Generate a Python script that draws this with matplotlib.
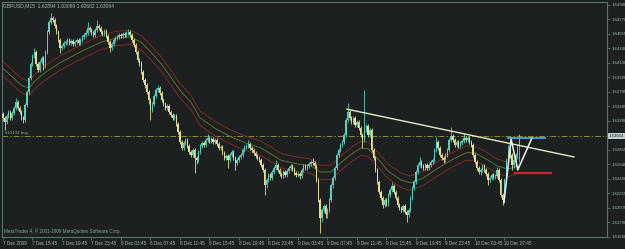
import matplotlib
matplotlib.use("Agg")
import matplotlib.pyplot as plt
import numpy as np

# ---------------- data ----------------
header_text = "GBPUSD,M15  1.62894 1.63089 1.62682 1.63064"
copyright_text = "MetaTrader 4, \u00a9 2001-2009 MetaQuotes Software Corp."
order_text = "#13131 buy"

first_open = 1.6338
closes = [
    1.6332, 1.6326, 1.6335, 1.6341, 1.6332, 1.6339, 1.6347, 1.6355, 1.6347, 1.6341,
    1.6332, 1.6329, 1.6351, 1.6370, 1.6391, 1.6411, 1.6423, 1.6429, 1.6411, 1.6402,
    1.6414, 1.6420, 1.6408, 1.6429, 1.6458, 1.6473, 1.6479, 1.6476, 1.6467, 1.6458,
    1.6446, 1.6435, 1.6438, 1.6442, 1.6443, 1.6446, 1.6442, 1.6445, 1.6440, 1.6443,
    1.6446, 1.6442, 1.6446, 1.6451, 1.6454, 1.6457, 1.6464, 1.6461, 1.6457, 1.6454,
    1.6461, 1.6467, 1.6464, 1.6458, 1.6455, 1.6460, 1.6452, 1.6443, 1.6435, 1.6440,
    1.6446, 1.6449, 1.6451, 1.6454, 1.6452, 1.6455, 1.6454, 1.6457, 1.6458, 1.6454,
    1.6446, 1.6439, 1.6429, 1.6417, 1.6413, 1.6399, 1.6388, 1.6380, 1.6370, 1.6358,
    1.6344, 1.6353, 1.6364, 1.6373, 1.6376, 1.6369, 1.6358, 1.6353, 1.6347, 1.6350,
    1.6341, 1.6336, 1.6332, 1.6335, 1.6323, 1.6311, 1.6297, 1.6288, 1.6295, 1.6300,
    1.6291, 1.6282, 1.6278, 1.6285, 1.6273, 1.6270, 1.6282, 1.6291, 1.6295, 1.6292,
    1.6300, 1.6303, 1.6298, 1.6301, 1.6297, 1.6300, 1.6294, 1.6288, 1.6290, 1.6281,
    1.6273, 1.6276, 1.6270, 1.6278, 1.6282, 1.6273, 1.6266, 1.6270, 1.6275, 1.6278,
    1.6285, 1.6290, 1.6291, 1.6294, 1.6288, 1.6285, 1.6281, 1.6276, 1.6273, 1.6270,
    1.6263, 1.6256, 1.6234, 1.6241, 1.6248, 1.6244, 1.6253, 1.6259, 1.6263, 1.6256,
    1.6250, 1.6247, 1.6253, 1.6248, 1.6254, 1.6259, 1.6262, 1.6257, 1.6251, 1.6248,
    1.6250, 1.6247, 1.6256, 1.6262, 1.6259, 1.6262, 1.6265, 1.6268, 1.6266, 1.6262,
    1.6241, 1.6212, 1.6185, 1.6197, 1.6203, 1.6191, 1.6197, 1.6212, 1.6234, 1.6244,
    1.6259, 1.6278, 1.6285, 1.6292, 1.6297, 1.6307, 1.6329, 1.6341, 1.6332, 1.6326,
    1.6332, 1.6322, 1.6326, 1.6317, 1.6307, 1.6300, 1.6314, 1.6320, 1.6307, 1.6314,
    1.6285, 1.6273, 1.6256, 1.6238, 1.6224, 1.6215, 1.6204, 1.6212, 1.6206, 1.6219,
    1.6226, 1.6232, 1.6224, 1.6215, 1.6204, 1.6200, 1.6197, 1.6203, 1.6194, 1.6190,
    1.6197, 1.6215, 1.6229, 1.6238, 1.6253, 1.6263, 1.6268, 1.6262, 1.6259, 1.6263,
    1.6259, 1.6263, 1.6268, 1.6270, 1.6285, 1.6297, 1.6288, 1.6278, 1.6273, 1.6270,
    1.6278, 1.6285, 1.6300, 1.6306, 1.6300, 1.6292, 1.6297, 1.6291, 1.6295, 1.6298,
    1.6303, 1.6300, 1.6303, 1.6297, 1.6292, 1.6278, 1.6268, 1.6259, 1.6253, 1.6256,
    1.6262, 1.6256, 1.6250, 1.6241, 1.6244, 1.6248, 1.6246, 1.6247, 1.6256, 1.6241,
    1.6219, 1.6212, 1.6241, 1.6270, 1.6285, 1.6278, 1.6263, 1.6270, 1.6278, 1.6289,
    1.63064,
]
highs = [
    1.6341, 1.6335, 1.6338, 1.6344, 1.6344, 1.6342, 1.6350, 1.6361, 1.6358, 1.6350,
    1.6344, 1.6335, 1.6354, 1.6373, 1.6394, 1.6414, 1.6426, 1.6435, 1.6432, 1.6414,
    1.6417, 1.6423, 1.6423, 1.6432, 1.6461, 1.6476, 1.6486, 1.6482, 1.6479, 1.6470,
    1.6461, 1.6449, 1.6440, 1.6445, 1.6446, 1.6449, 1.6449, 1.6448, 1.6448, 1.6446,
    1.6449, 1.6449, 1.6449, 1.6454, 1.6457, 1.6461, 1.6473, 1.6467, 1.6464, 1.6460,
    1.6464, 1.6476, 1.6470, 1.6467, 1.6461, 1.6462, 1.6462, 1.6455, 1.6446, 1.6443,
    1.6449, 1.6452, 1.6454, 1.6457, 1.6457, 1.6458, 1.6458, 1.6460, 1.6462, 1.6461,
    1.6457, 1.6449, 1.6442, 1.6432, 1.6420, 1.6416, 1.6402, 1.6391, 1.6383, 1.6373,
    1.6361, 1.6355, 1.6367, 1.6376, 1.6380, 1.6379, 1.6372, 1.6361, 1.6355, 1.6353,
    1.6353, 1.6344, 1.6339, 1.6338, 1.6338, 1.6326, 1.6314, 1.6300, 1.6298, 1.6303,
    1.6303, 1.6294, 1.6285, 1.6288, 1.6288, 1.6276, 1.6285, 1.6294, 1.6298, 1.6298,
    1.6303, 1.6309, 1.6306, 1.6304, 1.6304, 1.6303, 1.6303, 1.6297, 1.6292, 1.6292,
    1.6284, 1.6279, 1.6279, 1.6281, 1.6285, 1.6285, 1.6276, 1.6273, 1.6278, 1.6281,
    1.6288, 1.6292, 1.6294, 1.6300, 1.6297, 1.6291, 1.6288, 1.6284, 1.6279, 1.6276,
    1.6273, 1.6266, 1.6259, 1.6244, 1.6251, 1.6251, 1.6256, 1.6262, 1.6270, 1.6266,
    1.6259, 1.6253, 1.6256, 1.6256, 1.6257, 1.6262, 1.6265, 1.6265, 1.6260, 1.6254,
    1.6253, 1.6253, 1.6259, 1.6265, 1.6265, 1.6265, 1.6268, 1.6270, 1.6273, 1.6269,
    1.6265, 1.6244, 1.6215, 1.6200, 1.6206, 1.6206, 1.6200, 1.6215, 1.6237, 1.6247,
    1.6262, 1.6281, 1.6288, 1.6295, 1.6300, 1.6310, 1.6332, 1.6354, 1.6344, 1.6335,
    1.6335, 1.6335, 1.6329, 1.6329, 1.6320, 1.6310, 1.6373, 1.6323, 1.6323, 1.6317,
    1.6317, 1.6288, 1.6276, 1.6259, 1.6241, 1.6226, 1.6218, 1.6215, 1.6215, 1.6222,
    1.6229, 1.6238, 1.6235, 1.6226, 1.6218, 1.6207, 1.6203, 1.6206, 1.6206, 1.6197,
    1.6200, 1.6218, 1.6232, 1.6241, 1.6256, 1.6266, 1.6275, 1.6270, 1.6265, 1.6266,
    1.6266, 1.6266, 1.6270, 1.6273, 1.6288, 1.6304, 1.6300, 1.6291, 1.6281, 1.6276,
    1.6281, 1.6288, 1.6303, 1.6319, 1.6309, 1.6303, 1.6300, 1.6300, 1.6298, 1.6301,
    1.6310, 1.6306, 1.6306, 1.6306, 1.6300, 1.6295, 1.6281, 1.6270, 1.6262, 1.6259,
    1.6265, 1.6265, 1.6259, 1.6253, 1.6247, 1.6251, 1.6251, 1.6250, 1.6260, 1.6259,
    1.6244, 1.6222, 1.6244, 1.6273, 1.6292, 1.6288, 1.6281, 1.6273, 1.6281, 1.6294,
    1.63089,
]
lows = [
    1.6328, 1.6314, 1.6323, 1.6332, 1.6329, 1.6329, 1.6336, 1.6344, 1.6344, 1.6338,
    1.6329, 1.6325, 1.6326, 1.6348, 1.6367, 1.6388, 1.6408, 1.6420, 1.6408, 1.6399,
    1.6399, 1.6411, 1.6402, 1.6405, 1.6426, 1.6455, 1.6470, 1.6473, 1.6464, 1.6455,
    1.6443, 1.6427, 1.6432, 1.6435, 1.6439, 1.6440, 1.6439, 1.6439, 1.6438, 1.6438,
    1.6440, 1.6439, 1.6439, 1.6443, 1.6448, 1.6451, 1.6454, 1.6458, 1.6454, 1.6451,
    1.6451, 1.6458, 1.6461, 1.6455, 1.6452, 1.6452, 1.6449, 1.6440, 1.6429, 1.6432,
    1.6438, 1.6443, 1.6446, 1.6448, 1.6449, 1.6449, 1.6451, 1.6451, 1.6454, 1.6451,
    1.6443, 1.6436, 1.6426, 1.6414, 1.6408, 1.6397, 1.6385, 1.6376, 1.6367, 1.6353,
    1.6329, 1.6341, 1.6350, 1.6361, 1.6370, 1.6366, 1.6355, 1.6350, 1.6344, 1.6344,
    1.6338, 1.6333, 1.6329, 1.6329, 1.6320, 1.6309, 1.6294, 1.6285, 1.6285, 1.6292,
    1.6288, 1.6279, 1.6275, 1.6275, 1.6251, 1.6265, 1.6268, 1.6279, 1.6288, 1.6290,
    1.6290, 1.6297, 1.6295, 1.6295, 1.6294, 1.6294, 1.6291, 1.6285, 1.6285, 1.6278,
    1.6270, 1.6270, 1.6259, 1.6268, 1.6275, 1.6270, 1.6256, 1.6263, 1.6268, 1.6272,
    1.6275, 1.6282, 1.6287, 1.6288, 1.6285, 1.6282, 1.6278, 1.6273, 1.6270, 1.6268,
    1.6260, 1.6253, 1.6219, 1.6229, 1.6238, 1.6241, 1.6241, 1.6250, 1.6256, 1.6253,
    1.6247, 1.6244, 1.6244, 1.6246, 1.6246, 1.6251, 1.6256, 1.6254, 1.6248, 1.6246,
    1.6246, 1.6243, 1.6244, 1.6253, 1.6256, 1.6256, 1.6259, 1.6262, 1.6263, 1.6259,
    1.6238, 1.6209, 1.6163, 1.6180, 1.6194, 1.6185, 1.6185, 1.6194, 1.6209, 1.6229,
    1.6241, 1.6256, 1.6275, 1.6282, 1.6290, 1.6294, 1.6304, 1.6326, 1.6329, 1.6323,
    1.6323, 1.6319, 1.6319, 1.6314, 1.6304, 1.6288, 1.6297, 1.6311, 1.6304, 1.6304,
    1.6282, 1.6270, 1.6253, 1.6235, 1.6221, 1.6212, 1.6200, 1.6202, 1.6203, 1.6203,
    1.6216, 1.6224, 1.6221, 1.6212, 1.6202, 1.6197, 1.6194, 1.6194, 1.6191, 1.6180,
    1.6187, 1.6194, 1.6212, 1.6226, 1.6235, 1.6250, 1.6260, 1.6259, 1.6256, 1.6256,
    1.6256, 1.6256, 1.6260, 1.6265, 1.6268, 1.6282, 1.6285, 1.6275, 1.6270, 1.6266,
    1.6268, 1.6275, 1.6282, 1.6297, 1.6297, 1.6290, 1.6290, 1.6288, 1.6288, 1.6292,
    1.6295, 1.6297, 1.6297, 1.6294, 1.6290, 1.6275, 1.6265, 1.6256, 1.6250, 1.6248,
    1.6253, 1.6253, 1.6247, 1.6234, 1.6238, 1.6241, 1.6243, 1.6243, 1.6244, 1.6238,
    1.6216, 1.6204, 1.6209, 1.6238, 1.6268, 1.6273, 1.6256, 1.6259, 1.6268, 1.6273,
    1.62682,
]

# moving average channel
ma_bars = [0, 10, 14, 18, 23, 31, 42, 53, 61, 69, 75, 80, 86, 91, 96, 102, 107, 115, 124, 132,
           140, 151, 159, 167, 172, 178, 183, 189, 194, 198, 204, 209, 216, 221, 228, 235, 243,
           251, 256, 262, 268, 274, 280]
ma_mid = [1.6405, 1.6380, 1.6376, 1.6388, 1.6399, 1.6413, 1.6429, 1.6443, 1.6449, 1.6451,
          1.6443, 1.6429, 1.6411, 1.6392, 1.6373, 1.6355, 1.6332, 1.6317, 1.6304, 1.6295,
          1.6288, 1.6270, 1.6265, 1.6262, 1.6253, 1.6253, 1.6266, 1.6279, 1.6288, 1.6287,
          1.6270, 1.6254, 1.6241, 1.6237, 1.6244, 1.6257, 1.6270, 1.6281, 1.6281, 1.6272,
          1.6262, 1.6257, 1.6263]
ma_upper = [1.6415, 1.6390, 1.6386, 1.6398, 1.6409, 1.6423, 1.6439, 1.6453, 1.6459, 1.6461,
            1.6453, 1.6439, 1.6421, 1.6402, 1.6383, 1.6365, 1.6342, 1.6327, 1.6314, 1.6305,
            1.6298, 1.6280, 1.6275, 1.6272, 1.6263, 1.6263, 1.6276, 1.6289, 1.6298, 1.6297,
            1.6280, 1.6264, 1.6251, 1.6247, 1.6254, 1.6267, 1.6280, 1.6291, 1.6291, 1.6282,
            1.6272, 1.6267, 1.6273]
ma_lower = [1.6394, 1.6369, 1.6365, 1.6377, 1.6388, 1.6402, 1.6418, 1.6432, 1.6438, 1.6440,
            1.6432, 1.6418, 1.6400, 1.6381, 1.6362, 1.6344, 1.6321, 1.6306, 1.6293, 1.6284,
            1.6277, 1.6259, 1.6254, 1.6251, 1.6242, 1.6242, 1.6255, 1.6268, 1.6277, 1.6276,
            1.6259, 1.6243, 1.6230, 1.6226, 1.6233, 1.6246, 1.6259, 1.6270, 1.6270, 1.6261,
            1.6251, 1.6246, 1.6252]

# drawn objects
trend_bars = [186.6, 309.6]
trend_prices = [1.6345, 1.6275]
zigzag_bars = [271.7, 275.6, 279.2, 286.8]
zigzag_prices = [1.6208, 1.6301, 1.6256, 1.6302]
blue_level_bars = [273.9, 293.9]
blue_level = 1.6303
red_level_bars = [277.7, 297.2]
red_level = 1.6251
order_price = 1.63055
current_price = 1.63064
current_label = "1.63064"

time_labels = ["7 Dec 2009", "7 Dec 15:45", "7 Dec 19:45", "7 Dec 23:45", "8 Dec 03:45",
               "8 Dec 07:45", "8 Dec 11:45", "8 Dec 15:45", "8 Dec 19:45", "8 Dec 23:45",
               "9 Dec 03:45", "9 Dec 07:45", "9 Dec 11:45", "9 Dec 15:45", "9 Dec 19:45",
               "9 Dec 23:45", "10 Dec 03:45", "10 Dec 07:45"]
bars_per_label = 16
price_ticks = [1.64980, 1.64770, 1.64555, 1.64340, 1.64130, 1.63920, 1.63705, 1.63495,
               1.63280, 1.62855, 1.62640, 1.62430, 1.62215, 1.62005, 1.61790, 1.61580]
price_tick_labels = ["1.64980", "1.64770", "1.64555", "1.64340", "1.64130", "1.63920",
                     "1.63705", "1.63495", "1.63280", "1.62855", "1.62640", "1.62430",
                     "1.62215", "1.62005", "1.61790", "1.61580"]

# ---------------- style ----------------
BG = "#1c2020"
FRAME = "#5d7070"
TXT = "#a9b8b8"
BULL = "#55d2c4"
BEAR = "#e6df8e"
MA_RED = "#862a22"
MA_GREEN = "#67752c"
FONT = "Liberation Sans"

W, H = 625, 249
fig = plt.figure(figsize=(W / 100, H / 100), dpi=100, facecolor=BG)
ax = fig.add_axes([2 / W, 12 / H, 605 / W, 235 / H], facecolor=BG)

n = len(closes)
x = np.arange(n)
c = np.array(closes)
o = np.array([first_open] + closes[:-1])
hi = np.array(highs)
lo = np.array(lows)
bull = c >= o
cols = np.where(bull, BULL, BEAR)

ax.vlines(x, lo, hi, colors=cols, linewidth=0.6, zorder=3)
bottoms = np.minimum(o, c)
heights = np.maximum(np.abs(c - o), 0.00006)
ax.bar(x, heights, bottom=bottoms, width=0.72, color=cols, linewidth=0, zorder=4)

ax.plot(ma_bars, ma_upper, color=MA_RED, lw=0.65, zorder=2)
ax.plot(ma_bars, ma_mid, color=MA_GREEN, lw=0.65, zorder=2)
ax.plot(ma_bars, ma_lower, color=MA_RED, lw=0.65, zorder=2)

ax.axhline(order_price, color="#8c8c30", lw=0.7, ls=(0, (6, 2, 1.5, 2)), zorder=1)
ax.plot(trend_bars, trend_prices, color="#e2ecc4", lw=1.0, zorder=6)
ax.plot(blue_level_bars, [blue_level] * 2, color="#3f9fe0", lw=1.4, zorder=6)
ax.plot(red_level_bars, [red_level] * 2, color="#d0282a", lw=1.6, zorder=6)
ax.plot(zigzag_bars, zigzag_prices, color="#f4f4f4", lw=1.1, zorder=7)

ax.set_xlim(-0.5, 327.6)
ax.set_ylim(1.61576, 1.65021)

for s in ax.spines.values():
    s.set_color(FRAME)
    s.set_linewidth(0.8)

ax.set_xticks(np.arange(len(time_labels)) * bars_per_label)
ax.set_xticklabels(time_labels, fontsize=3.3, color=TXT, ha="left", family=FONT)
ax.yaxis.tick_right()
ax.set_yticks(price_ticks)
ax.set_yticklabels(price_tick_labels, fontsize=3.1, color=TXT, family=FONT)
ax.tick_params(axis="both", colors=FRAME, length=2, width=0.6, pad=1.0, labelcolor=TXT)

ax.text(1.003, order_price, current_label, transform=ax.get_yaxis_transform(),
        fontsize=3.1, color="#1c2020", family=FONT, va="center", ha="left",
        bbox=dict(boxstyle="square,pad=0.25", fc="#bcd0d0", ec="none"), zorder=10)

ax.text(3 / 605, order_price + 0.00012, order_text, transform=ax.get_yaxis_transform(),
        fontsize=3.2, color="#9aa6a6", family=FONT, va="bottom", ha="left")
fig.text(3 / W, 1 - 5.5 / H, header_text, fontsize=3.6, color=TXT, family=FONT,
         va="center", ha="left")
fig.text(4 / W, 1 - 231 / H, copyright_text, fontsize=3.3, color="#8fa0a0", family=FONT,
         va="center", ha="left")

fig.savefig("out.png", dpi=100, facecolor=BG)
